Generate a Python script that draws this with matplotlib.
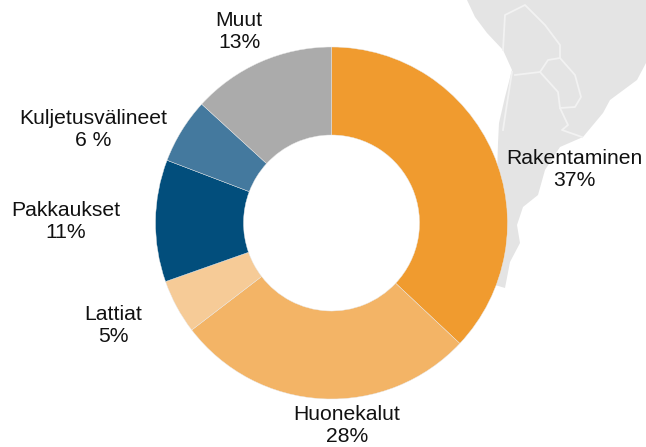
import matplotlib
matplotlib.use('Agg')
import matplotlib.pyplot as plt

plt.rcParams['font.family'] = ['Liberation Sans', 'DejaVu Sans']

H = 447

categories = ['Rakentaminen', 'Huonekalut', 'Lattiat', 'Pakkaukset', 'Kuljetusvälineet', 'Muut']
shares = [37, 27.6, 5, 11.2, 6, 13.2]
share_labels = ['37%', '28%', '5%', '11%', '6 %', '13%']
colors = ['#F09B2F', '#F3B466', '#F6CB97', '#024E7C', '#44799E', '#ABABAB']
label_pos = [(574, 170), (347, 426), (113, 326), (66, 222), (93, 130), (239, 31)]

# tausta: Etela-Amerikan kartta, pikseleina
map_outline = [(467, 0), (475, 17), (487, 33), (503, 50), (512, 70), (505, 97), (499, 123),
               (498, 143), (497, 175), (495, 285), (505, 288), (510, 262), (520, 243), (517, 225),
               (523, 207), (538, 195), (545, 170), (560, 147), (583, 137), (603, 113),
               (610, 100), (637, 80), (646, 63), (646, 0)]
borders = [
    [(503, 50), (505, 15), (525, 5), (545, 25), (560, 45), (560, 58), (575, 75), (581, 97), (575, 107), (560, 108)],
    [(515, 75), (540, 72), (548, 60), (560, 58)],
    [(540, 72), (558, 92), (560, 108), (568, 125), (562, 130), (582, 137)],
    [(512, 72), (506, 110), (503, 130)],
]

fig = plt.figure(figsize=(6.46, 4.47), dpi=100)
ax = fig.add_axes([0, 0, 1, 1])

ax.fill([p[0] for p in map_outline], [H - p[1] for p in map_outline], color='#E4E4E4', lw=0, zorder=0)
for b in borders:
    ax.plot([p[0] for p in b], [H - p[1] for p in b], color='#F2F2F2', lw=1.3, zorder=0.5)

ax.pie(shares, colors=colors, startangle=90, counterclock=False, center=(331.5, H - 223),
       radius=176, frame=True, wedgeprops={'width': 88, 'edgecolor': '#E8E8E8', 'linewidth': 0.3})

for name, share, pos in zip(categories, share_labels, label_pos):
    ax.text(pos[0], H - pos[1], name + '\n' + share, ha='center', va='center',
            fontsize=15.2, color='#111111', linespacing=1.2, zorder=5)

ax.set_xlim(0, 646)
ax.set_ylim(0, H)
ax.axis('off')
fig.savefig('out.png', dpi=100)
